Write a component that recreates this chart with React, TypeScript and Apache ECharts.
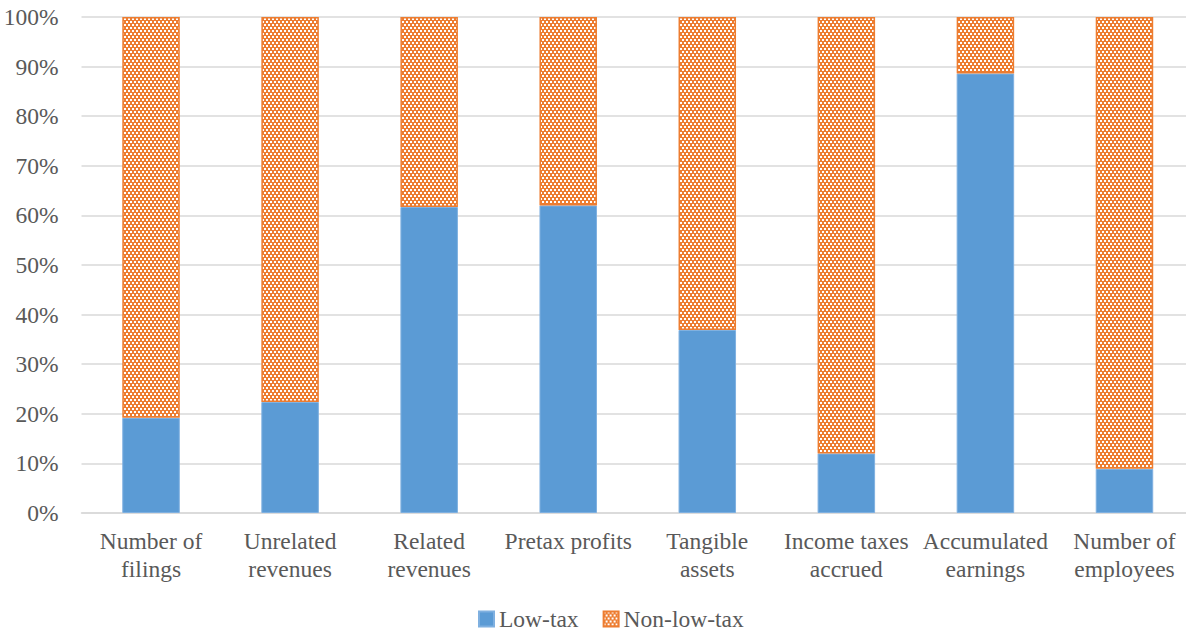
import React, { useEffect, useRef } from "react";
import * as echarts from "echarts";

const categories = [
  "Number of\nfilings",
  "Unrelated\nrevenues",
  "Related\nrevenues",
  "Pretax profits",
  "Tangible\nassets",
  "Income taxes\naccrued",
  "Accumulated\nearnings",
  "Number of\nemployees",
];
const lowTax = [19.2, 22.4, 61.7, 62.0, 36.9, 12.0, 88.6, 8.9];
const nonLowTax = lowTax.map((v) => +(100 - v).toFixed(1));
const yTicks = [0, 10, 20, 30, 40, 50, 60, 70, 80, 90, 100];

function makePattern(): HTMLCanvasElement {
  const c = document.createElement("canvas");
  c.width = 4;
  c.height = 6;
  const ctx = c.getContext("2d")!;
  ctx.fillStyle = "#ED7D31";
  ctx.fillRect(0, 0, 4, 6);
  ctx.fillStyle = "#ffffff";
  ctx.fillRect(0, 0, 2, 2);
  ctx.fillRect(2, 3, 2, 2);
  return c;
}

export default function App() {
  const ref = useRef<HTMLDivElement>(null);
  useEffect(() => {
    if (!ref.current) return;
    const chart = echarts.init(ref.current, undefined, { renderer: "svg" });
    const pattern = { image: makePattern(), repeat: "repeat" } as any;
    const font = "Liberation Serif";
    chart.setOption({
      animation: false,
      textStyle: { fontFamily: font },
      grid: { left: 81.5, right: 6, top: 17, bottom: 118, containLabel: false },
      legend: {
        top: 607,
        left: 478,
        itemWidth: 15,
        itemHeight: 15,
        itemGap: 24,
        icon: "rect",
        padding: 0,
        textStyle: { fontFamily: font, fontSize: 23.5, lineHeight: 20, color: "#595959" },
        data: ["Low-tax", "Non-low-tax"],
      },
      xAxis: {
        type: "category",
        data: categories,
        axisLine: { lineStyle: { color: "#d9d9d9", width: 1.5 } },
        axisTick: { show: false },
        axisLabel: {
          interval: 0,
          fontFamily: font,
          fontSize: 23.5,
          lineHeight: 28,
          color: "#595959",
          margin: 14,
        },
      },
      yAxis: {
        type: "value",
        min: 0,
        max: 100,
        interval: 10,
        axisLine: { show: false },
        axisTick: { show: false },
        splitLine: { lineStyle: { color: "#d9d9d9", width: 1.5 } },
        axisLabel: {
          fontFamily: font,
          fontSize: 23.5,
          color: "#595959",
          margin: 23,
          formatter: (v: number) => (yTicks.includes(v) ? v + "%" : ""),
        },
      },
      series: [
        {
          name: "Low-tax",
          type: "bar",
          stack: "total",
          barWidth: 57.5,
          data: lowTax,
          itemStyle: { color: "#5B9BD5", borderColor: "#7fb0e0", borderWidth: 1 },
        },
        {
          name: "Non-low-tax",
          type: "bar",
          stack: "total",
          barWidth: 57.5,
          data: nonLowTax,
          itemStyle: { color: pattern, borderColor: "#ED7D31", borderWidth: 1.5 },
        },
      ],
    });
    return () => chart.dispose();
  }, []);
  return (
    <div style={{ position: "fixed", left: 0, top: 0, width: 1186, height: 631, overflow: "hidden", background: "#fff" }}>
      <div ref={ref} style={{ width: 1200, height: 631 }} />
    </div>
  );
}
